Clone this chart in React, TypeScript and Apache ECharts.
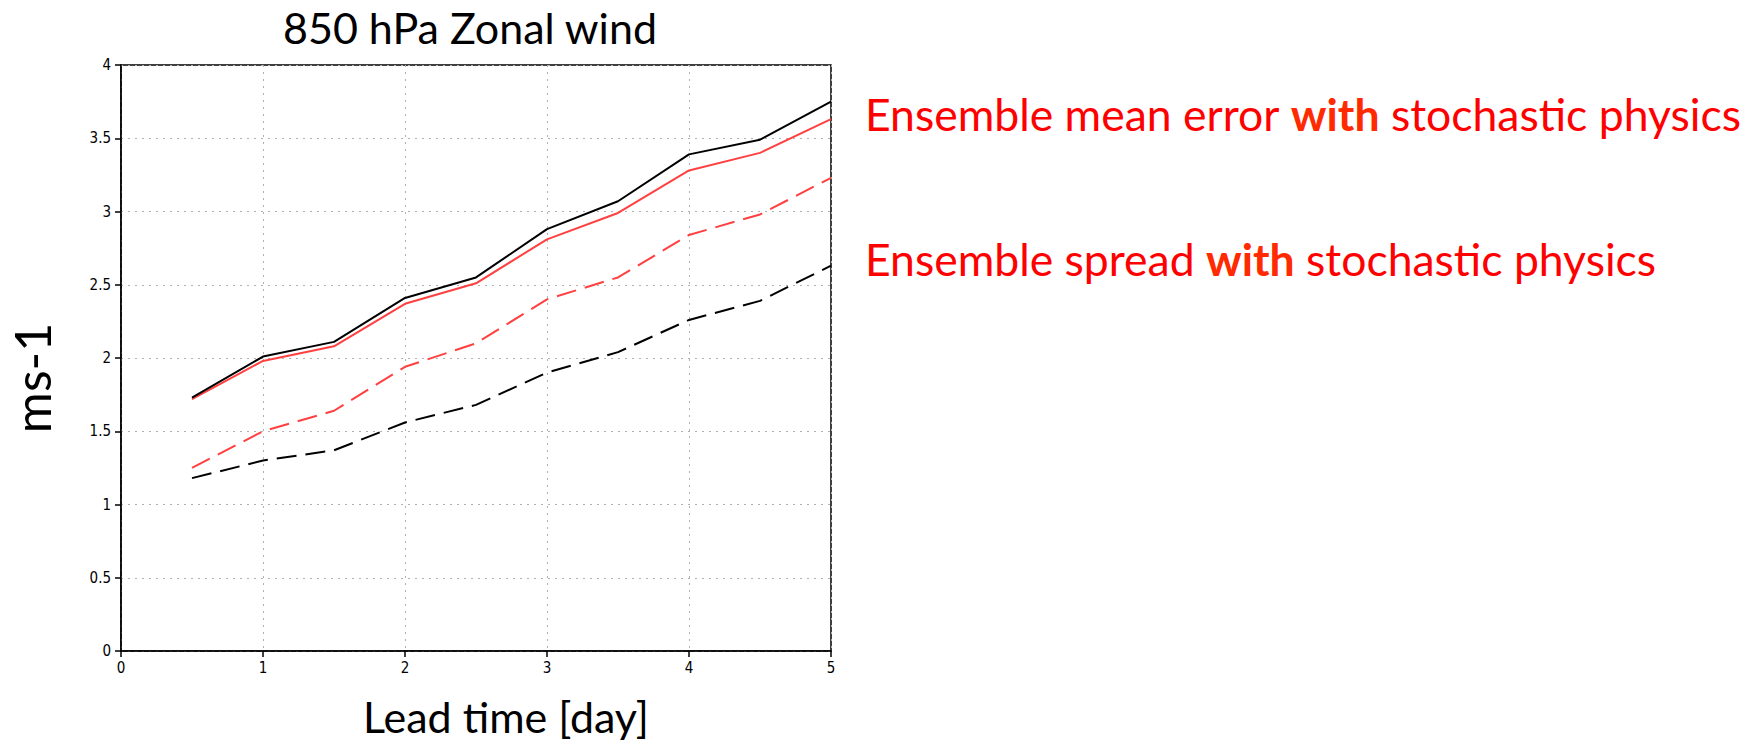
import React, { useEffect, useRef } from "react";
import * as echarts from "echarts";

const leadTimes = [0.5, 1, 1.5, 2, 2.5, 3, 3.5, 4, 4.5, 5];
const errorNoStoch = [1.73, 2.01, 2.11, 2.41, 2.55, 2.88, 3.07, 3.39, 3.49, 3.75];
const errorStoch = [1.72, 1.98, 2.08, 2.37, 2.51, 2.81, 2.99, 3.28, 3.4, 3.63];
const spreadStoch = [1.25, 1.5, 1.64, 1.94, 2.1, 2.4, 2.55, 2.84, 2.98, 3.23];
const spreadNoStoch = [1.18, 1.3, 1.37, 1.56, 1.68, 1.9, 2.04, 2.26, 2.39, 2.63];

const titleText = "850 hPa Zonal wind";
const xName = "Lead time [day]";
const yName = "ms-1";
const legendLines = [
  ["Ensemble mean error ", "with", " stochastic physics"],
  ["Ensemble spread ", "with", " stochastic physics"],
];

const FONT = "Lato, 'Open Sans', sans-serif";
const TICK_FONT = "'Liberation Sans Narrow', 'DejaVu Sans Condensed', 'Liberation Sans', sans-serif";

const pairs = (ys: number[]) => leadTimes.map((x, i) => [x, ys[i]]);

export default function App() {
  const ref = useRef<HTMLDivElement>(null);
  useEffect(() => {
    if (!ref.current) return;
    const chart = echarts.init(ref.current, undefined, { renderer: "svg" });
    const gridLeft = 121, gridTop = 65, gridW = 710, gridH = 586;
    const axisCommon = {
      axisLine: { show: true, onZero: false, lineStyle: { color: "#000", width: 1.5 } },
      axisTick: { show: true, inside: false, length: 6, lineStyle: { color: "#000", width: 1.5 } },
      splitLine: { show: true, lineStyle: { color: "#b0b0b0", width: 1, type: [2, 5] as any } },
    };
    const lineSeries = (name: string, data: number[], color: string, dashed: boolean) => ({
      name,
      type: "line",
      data: pairs(data),
      showSymbol: false,
      symbol: "none",
      lineStyle: { color, width: 2, type: dashed ? ([20, 9] as any) : "solid" },
      z: 3,
    });
    chart.setOption({
      animation: false,
      backgroundColor: "#fff",
      grid: {
        left: gridLeft, top: gridTop, width: gridW, height: gridH,
        show: true, borderColor: "#000", borderWidth: 1.5, backgroundColor: "transparent",
      },
      xAxis: {
        type: "value", min: 0, max: 5, interval: 1,
        ...axisCommon,
        axisLabel: { color: "#000", fontSize: 15, fontFamily: TICK_FONT, margin: 9 },
      },
      yAxis: {
        type: "value", min: 0, max: 4, interval: 0.5,
        ...axisCommon,
        axisLabel: { color: "#000", fontSize: 15, fontFamily: TICK_FONT, margin: 10 },
      },
      series: [
        lineSeries("Spread without stochastic physics", spreadNoStoch, "#000", true),
        lineSeries("Spread with stochastic physics", spreadStoch, "#ff4040", true),
        lineSeries("Error with stochastic physics", errorStoch, "#ff4040", false),
        lineSeries("Error without stochastic physics", errorNoStoch, "#000", false),
      ],
      graphic: [
        {
          type: "text", x: 470, y: 27,
          style: { text: titleText, font: `43px ${FONT}`, fill: "#000", align: "center", verticalAlign: "middle" },
        },
        {
          type: "text", x: 506, y: 716,
          style: { text: xName, font: `43px ${FONT}`, fill: "#000", align: "center", verticalAlign: "middle" },
        },
        {
          type: "text", x: 32, y: 378, rotation: Math.PI / 2,
          style: { text: yName, font: `50px ${FONT}`, fill: "#000", align: "center", verticalAlign: "middle" },
        },
        ...legendLines.map((parts, i) => ({
          type: "text", x: 865, y: 113 + i * 145,
          style: {
            text: `{a|${parts[0]}}{b|${parts[1]}}{a|${parts[2]}}`,
            verticalAlign: "middle",
            align: "left",
            rich: {
              a: { fontFamily: FONT, fontSize: 44.5, fill: "#ff0000", color: "#ff0000" },
              b: { fontFamily: FONT, fontSize: 44.5, fontWeight: "bold", fill: "#ff2a00", color: "#ff2a00" },
            },
          },
        })),
      ],
    });
    return () => chart.dispose();
  }, []);
  return (
    <div
      ref={ref}
      style={{ position: "absolute", left: 0, top: 0, width: 1759, height: 744 }}
    />
  );
}
